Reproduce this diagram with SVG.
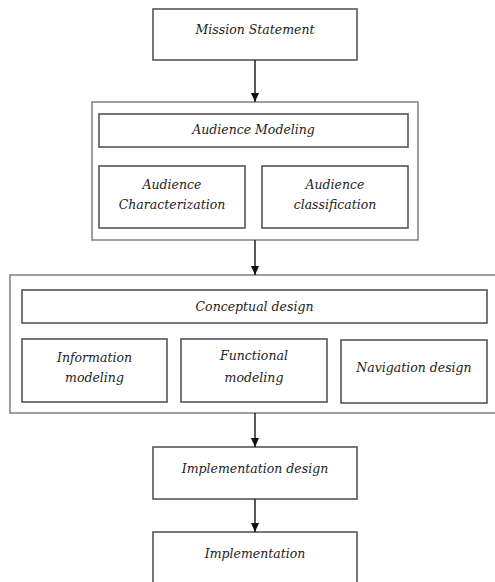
<svg xmlns="http://www.w3.org/2000/svg" width="495" height="582" viewBox="0 0 495 582">
  <defs>
    <marker id="arrow" markerWidth="9" markerHeight="8" refX="9" refY="4" orient="auto" markerUnits="userSpaceOnUse" viewBox="0 0 9 8">
      <path d="M0,0 L9,4 L0,8 Z" fill="#111"/>
    </marker>
  </defs>
  <style>
    .box { fill: #fff; stroke: #555; stroke-width: 1.6; }
    .outer { fill: #fff; stroke: #888; stroke-width: 1.6; }
    .lbl { font-family: "DejaVu Serif", "Liberation Serif", serif; font-style: italic; font-size: 12.5px; fill: #222; text-anchor: middle; }
    .conn { stroke: #222; stroke-width: 1.5; fill: none; }
  </style>
  <rect width="495" height="582" fill="#fff"/>

  <g id="mission">
    <rect class="box" x="153" y="9" width="204" height="51"/>
    <text class="lbl" x="255" y="34">Mission Statement</text>
  </g>

  <g id="audience-group">
    <rect class="outer" x="92" y="102" width="326" height="138"/>
  </g>
  <g id="audience-modeling">
    <rect class="box" x="99" y="114" width="309" height="33"/>
    <text class="lbl" x="253.5" y="134">Audience Modeling</text>
  </g>
  <g id="audience-characterization">
    <rect class="box" x="99" y="166" width="146" height="62"/>
    <text class="lbl" x="172" y="189">Audience</text>
    <text class="lbl" x="172" y="209">Characterization</text>
  </g>
  <g id="audience-classification">
    <rect class="box" x="262" y="166" width="146" height="62"/>
    <text class="lbl" x="335" y="189">Audience</text>
    <text class="lbl" x="335" y="209">classification</text>
  </g>

  <!-- the design frame runs past the right edge of the page -->
  <g id="conceptual-group">
    <rect class="outer" x="10" y="275" width="492" height="138"/>
  </g>
  <g id="conceptual-design">
    <rect class="box" x="22" y="290" width="465" height="33"/>
    <text class="lbl" x="254.5" y="311">Conceptual design</text>
  </g>
  <g id="information-modeling">
    <rect class="box" x="22" y="339" width="145" height="63"/>
    <text class="lbl" x="94.5" y="362">Information</text>
    <text class="lbl" x="94.5" y="382">modeling</text>
  </g>
  <g id="functional-modeling">
    <rect class="box" x="181" y="339" width="146" height="63"/>
    <text class="lbl" x="254" y="360">Functional</text>
    <text class="lbl" x="254" y="382">modeling</text>
  </g>
  <g id="navigation-design">
    <rect class="box" x="341" y="340" width="146" height="63"/>
    <text class="lbl" x="414" y="372">Navigation design</text>
  </g>

  <g id="implementation-design">
    <rect class="box" x="153" y="447" width="204" height="52"/>
    <text class="lbl" x="255" y="473">Implementation design</text>
  </g>
  <g id="implementation">
    <rect class="box" x="153" y="532" width="204" height="60"/>
    <text class="lbl" x="255" y="558">Implementation</text>
  </g>

  <g id="connectors">
    <line class="conn" x1="255" y1="60" x2="255" y2="102" marker-end="url(#arrow)"/>
    <line class="conn" x1="255" y1="240" x2="255" y2="275" marker-end="url(#arrow)"/>
    <line class="conn" x1="255" y1="413" x2="255" y2="447" marker-end="url(#arrow)"/>
    <line class="conn" x1="255" y1="499" x2="255" y2="532" marker-end="url(#arrow)"/>
  </g>
</svg>
